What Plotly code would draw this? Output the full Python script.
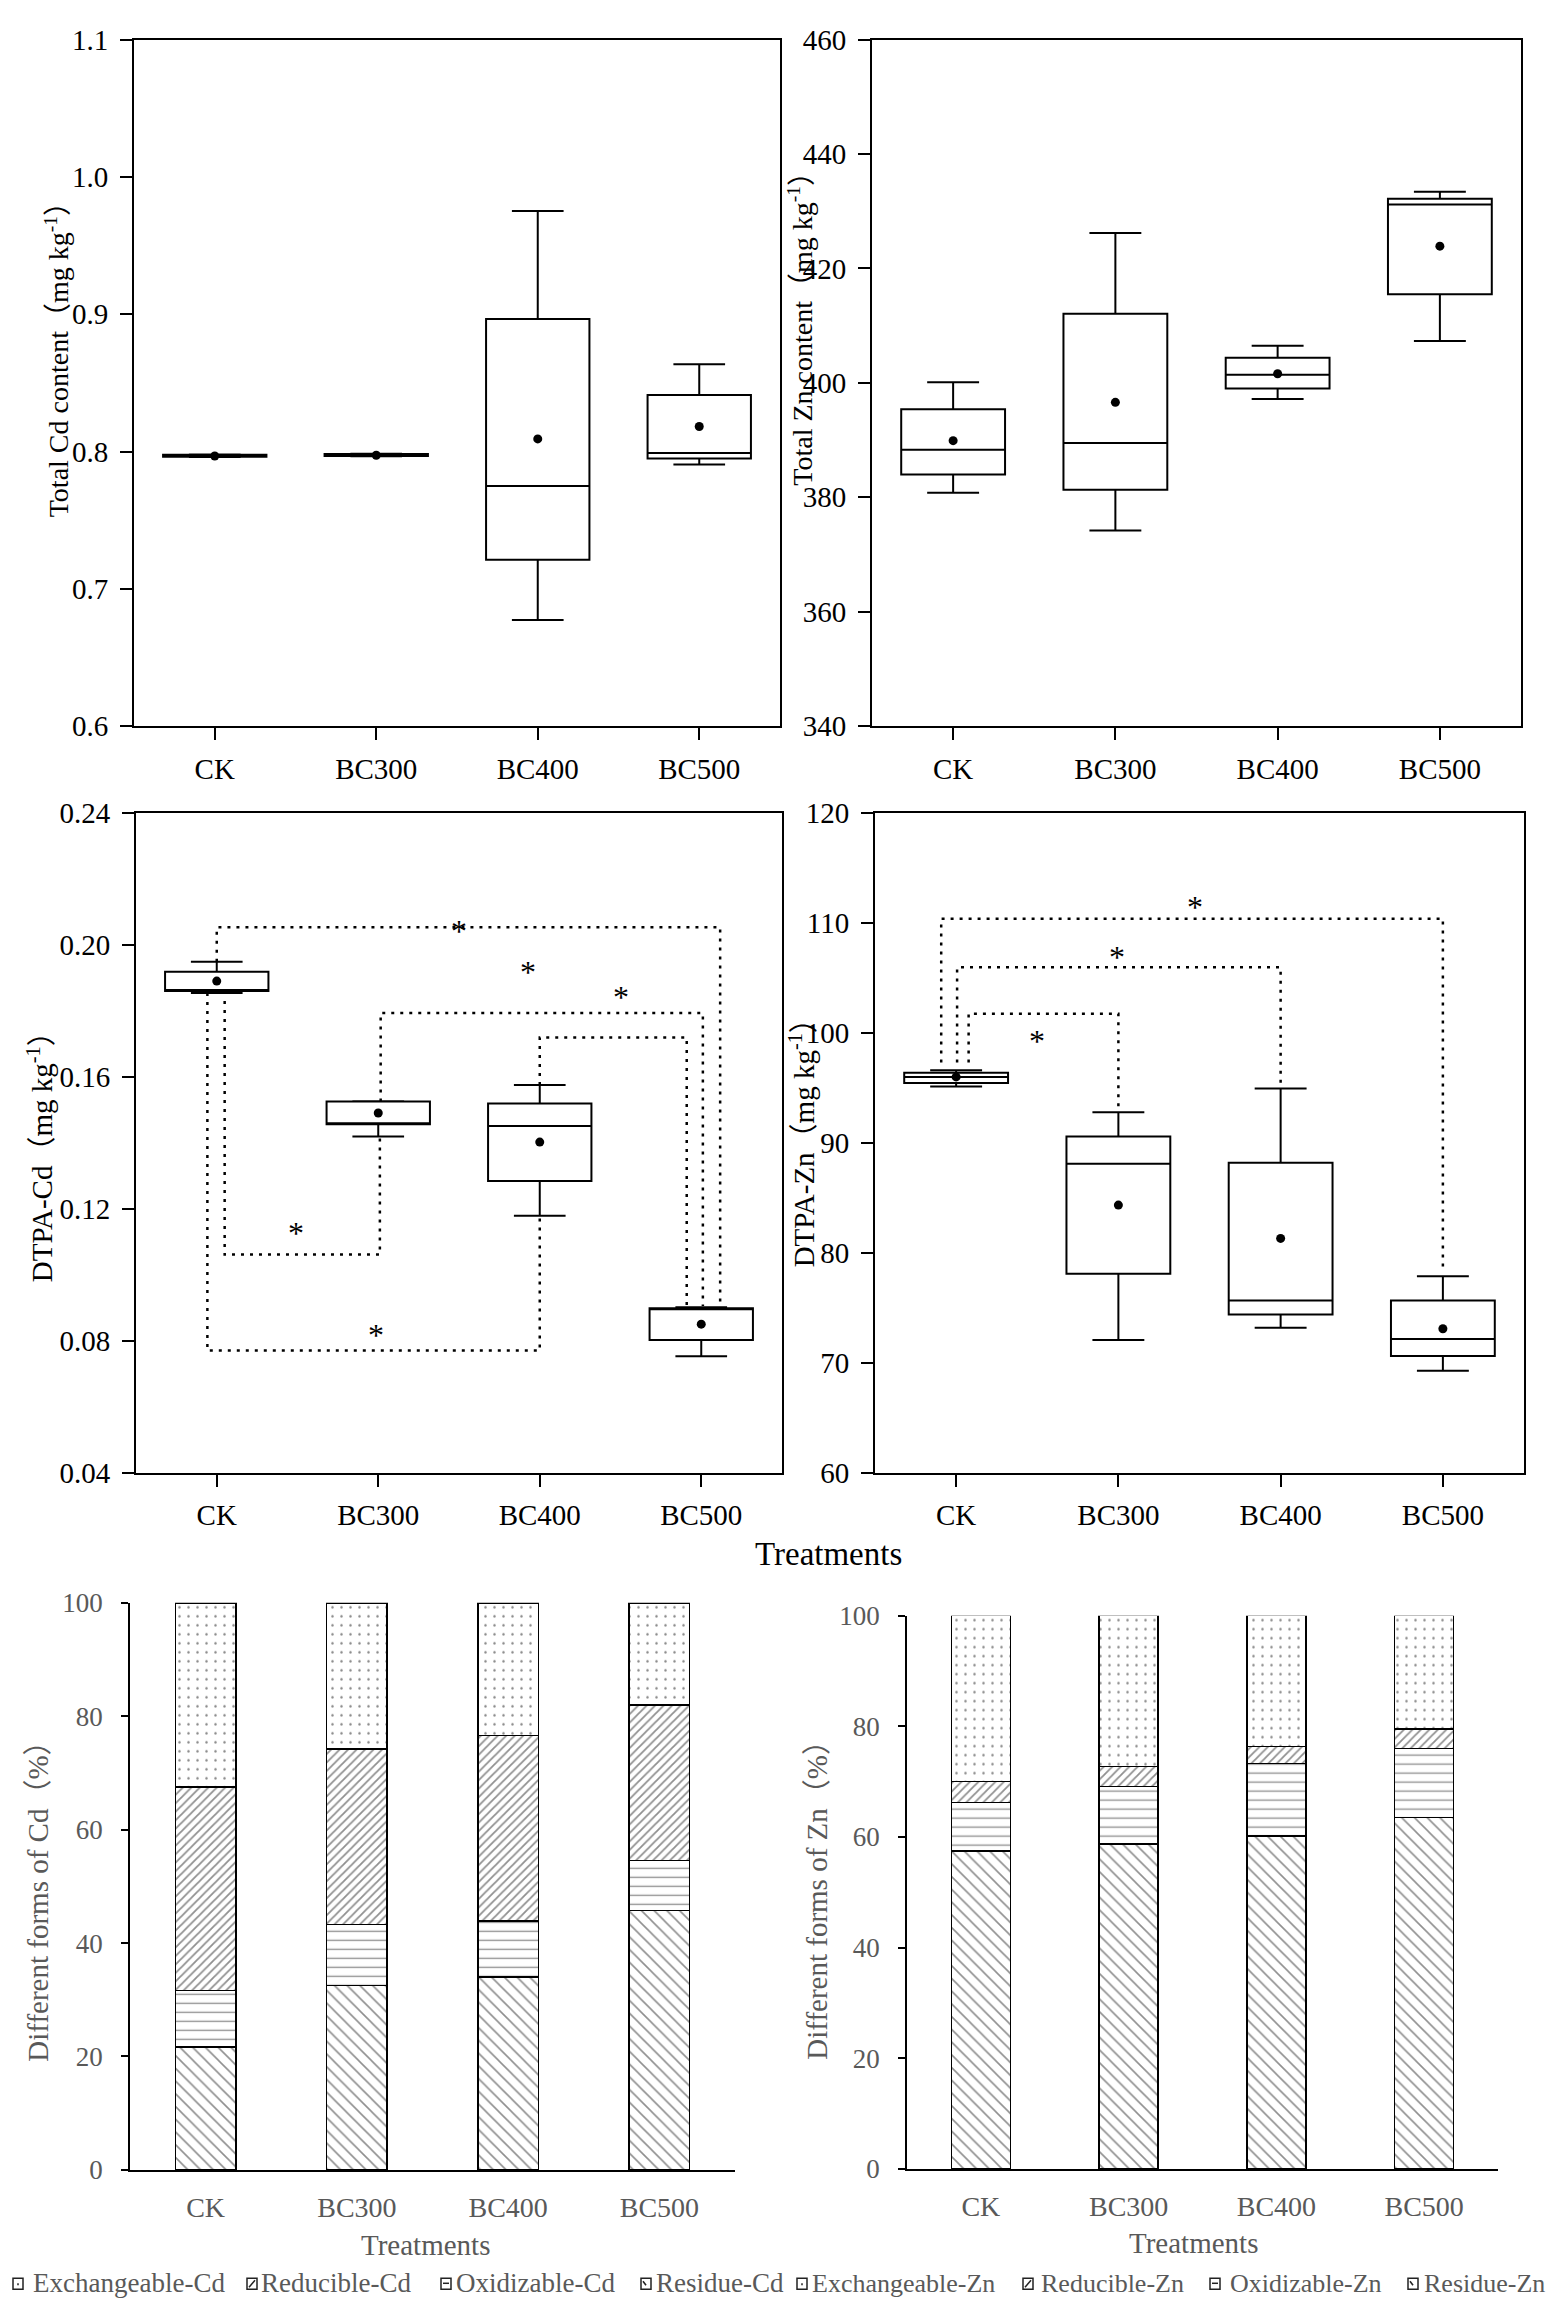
import plotly.graph_objects as go

W, H = 1559, 2320
SERIF = "Liberation Serif, Noto Sans CJK SC"
GRAY = "#595959"

categories = ["CK", "BC300", "BC400", "BC500"]
xpos = [0, 1, 2, 3]

# ---- Total Cd (box stats) ----
tcd_low = [0.7960, 0.7965, 0.6773, 0.7906]
tcd_q1 = [0.7962, 0.7967, 0.7212, 0.7949]
tcd_median = [0.7968, 0.7973, 0.7749, 0.7989]
tcd_q3 = [0.7976, 0.7981, 0.8965, 0.8411]
tcd_high = [0.7979, 0.7984, 0.9752, 0.8636]
tcd_mean = [0.7967, 0.7973, 0.8092, 0.8182]

# ---- Total Zn ----
tzn_low = [380.8, 374.2, 397.2, 407.3]
tzn_q1 = [384.0, 381.3, 399.0, 415.5]
tzn_median = [388.3, 389.5, 401.4, 431.2]
tzn_q3 = [395.4, 412.1, 404.4, 432.2]
tzn_high = [400.1, 426.2, 406.5, 433.4]
tzn_mean = [389.9, 396.6, 401.6, 423.9]

# ---- DTPA-Cd ----
dcd_low = [0.1854, 0.1419, 0.1179, 0.0753]
dcd_q1 = [0.1860, 0.1456, 0.1284, 0.0802]
dcd_median = [0.1863, 0.1457, 0.1451, 0.0895]
dcd_q3 = [0.1918, 0.1525, 0.1519, 0.0898]
dcd_high = [0.1949, 0.1526, 0.1575, 0.0901]
dcd_mean = [0.1890, 0.1490, 0.1402, 0.0850]

# ---- DTPA-Zn ----
dzn_low = [95.12, 72.07, 73.17, 69.27]
dzn_q1 = [95.44, 78.09, 74.37, 70.60]
dzn_median = [95.99, 88.09, 75.65, 72.16]
dzn_q3 = [96.36, 90.57, 88.19, 75.65]
dzn_high = [96.59, 92.78, 94.93, 77.86]
dzn_mean = [95.99, 84.33, 81.30, 73.08]

# significance brackets DTPA-Cd
cd_brk_xl = [0.0, -0.058, 0.049, 1.015, 2.0]
cd_brk_xr = [3.117, 2.0, 1.01, 3.01, 2.91]
cd_brk_y = [0.2053, 0.0770, 0.1061, 0.1793, 0.1719]
cd_brk_yl = [0.1949, 0.1854, 0.1830, 0.1525, 0.1575]
cd_brk_yr = [0.0905, 0.1179, 0.1419, 0.0905, 0.0905]
cd_star_x = [1.5, 1.93, 2.5, 0.49, 0.985]
cd_star_y = [0.2063, 0.1938, 0.1864, 0.1148, 0.0839]

# significance brackets DTPA-Zn
zn_brk_xl = [-0.092, 0.006, 0.077]
zn_brk_xr = [3.0, 2.0, 1.0]
zn_brk_y = [110.36, 105.95, 101.73]
zn_brk_yl = [97.3, 97.3, 97.3]
zn_brk_yr = [78.4, 94.93, 93.1]
zn_star_x = [1.47, 0.99, 0.50]
zn_star_y = [112.06, 107.56, 99.9]

# ---- fractions (%) ----
cd_residue = [21.7, 32.5, 34.0, 45.7]
cd_oxidizable = [9.9, 10.8, 9.9, 8.9]
cd_reducible = [35.9, 30.9, 32.7, 27.4]
cd_exchangeable = [32.5, 25.8, 23.4, 18.0]

zn_residue = [57.5, 58.7, 60.2, 63.5]
zn_oxidizable = [8.7, 10.4, 13.1, 12.5]
zn_reducible = [3.8, 3.6, 3.0, 3.5]
zn_exchangeable = [30.0, 27.3, 23.7, 20.5]

cd_legend = ["Exchangeable-Cd", "Reducible-Cd", "Oxidizable-Cd", "Residue-Cd"]
zn_legend = ["Exchangeable-Zn", "Reducible-Zn", "Oxidizable-Zn", "Residue-Zn"]


def dx(a, b):
    return [a / W, b / W]


def dy(top, bottom):
    return [1 - bottom / H, 1 - top / H]


def px(x):
    return x / W


def py(y):
    return 1 - y / H


fig = go.Figure()

box_sets = [
    (tcd_low, tcd_q1, tcd_median, tcd_q3, tcd_high, tcd_mean, "x", "y"),
    (tzn_low, tzn_q1, tzn_median, tzn_q3, tzn_high, tzn_mean, "x2", "y2"),
    (dcd_low, dcd_q1, dcd_median, dcd_q3, dcd_high, dcd_mean, "x3", "y3"),
    (dzn_low, dzn_q1, dzn_median, dzn_q3, dzn_high, dzn_mean, "x4", "y4"),
]
for lo, q1, md, q3, hi, mn, xa, ya in box_sets:
    fig.add_trace(go.Box(
        x=xpos, lowerfence=lo, q1=q1, median=md, q3=q3, upperfence=hi,
        width=0.64, whiskerwidth=0.5, fillcolor="white",
        line=dict(color="black", width=2), boxpoints=False,
        xaxis=xa, yaxis=ya, showlegend=False, hoverinfo="skip"))

DOT = dict(color="black", width=2.5, dash="3px,6px")
for xl, xr, yv, yl, yr in zip(cd_brk_xl, cd_brk_xr, cd_brk_y, cd_brk_yl, cd_brk_yr):
    fig.add_trace(go.Scatter(x=[xl, xl, xr, xr], y=[yl, yv, yv, yr], mode="lines",
                             line=DOT, xaxis="x3", yaxis="y3", showlegend=False, hoverinfo="skip"))
for xl, xr, yv, yl, yr in zip(zn_brk_xl, zn_brk_xr, zn_brk_y, zn_brk_yl, zn_brk_yr):
    fig.add_trace(go.Scatter(x=[xl, xl, xr, xr], y=[yl, yv, yv, yr], mode="lines",
                             line=DOT, xaxis="x4", yaxis="y4", showlegend=False, hoverinfo="skip"))

for lo, q1, md, q3, hi, mn, xa, ya in box_sets:
    fig.add_trace(go.Scatter(x=xpos, y=mn, mode="markers",
                             marker=dict(color="black", size=9),
                             xaxis=xa, yaxis=ya, showlegend=False, hoverinfo="skip"))

patterns = [
    dict(shape="\\", size=9, solidity=0.18, fgcolor="#222", bgcolor="white"),
    dict(shape="-", size=9, solidity=0.15, fgcolor="#222", bgcolor="white"),
    dict(shape="/", size=6, solidity=0.3, fgcolor="#222", bgcolor="white"),
    dict(shape=".", size=9, solidity=0.06, fgcolor="#111", bgcolor="white"),
]
cd_stack = [cd_residue, cd_oxidizable, cd_reducible, cd_exchangeable]
zn_stack = [zn_residue, zn_oxidizable, zn_reducible, zn_exchangeable]
cd_names = [cd_legend[3], cd_legend[2], cd_legend[1], cd_legend[0]]
zn_names = [zn_legend[3], zn_legend[2], zn_legend[1], zn_legend[0]]
for vals, pat, nm in zip(cd_stack, patterns, cd_names):
    fig.add_trace(go.Bar(x=xpos, y=vals, width=0.4, name=nm, xaxis="x5", yaxis="y5",
                         marker=dict(color="white", pattern=pat, line=dict(color="black", width=1.5)),
                         showlegend=False))
for vals, pat, nm in zip(zn_stack, patterns, zn_names):
    fig.add_trace(go.Bar(x=xpos, y=vals, width=0.4, name=nm, xaxis="x6", yaxis="y6",
                         marker=dict(color="white", pattern=pat, line=dict(color="black", width=1.5)),
                         showlegend=False))


def box_x(domain, anchor):
    return dict(domain=domain, anchor=anchor, range=[-0.5, 3.5], tickvals=xpos, ticktext=categories,
                ticks="outside", ticklen=12, tickwidth=2, tickcolor="black",
                showline=True, linewidth=2, linecolor="black", mirror=True,
                showgrid=False, zeroline=False, ticklabelstandoff=4,
                tickfont=dict(family=SERIF, size=29, color="black"))


def box_y(domain, anchor, rng, dtick, fmt):
    return dict(domain=domain, anchor=anchor, range=rng, dtick=dtick, tick0=rng[0], tickformat=fmt,
                ticks="outside", ticklen=12, tickwidth=2, tickcolor="black",
                showline=True, linewidth=2, linecolor="black", mirror=True,
                showgrid=False, zeroline=False, ticklabelstandoff=6,
                tickfont=dict(family=SERIF, size=29, color="black"))


def bar_x(domain, anchor):
    return dict(domain=domain, anchor=anchor, range=[-0.5, 3.5], tickvals=xpos, ticktext=categories,
                ticks="", showline=True, linewidth=1.5, linecolor="black",
                showgrid=False, zeroline=False, ticklabelstandoff=12,
                tickfont=dict(family=SERIF, size=28, color=GRAY))


def bar_y(domain, anchor):
    return dict(domain=domain, anchor=anchor, range=[0, 100], dtick=20,
                ticks="outside", ticklen=7, tickwidth=1.5, tickcolor="black",
                showline=True, linewidth=1.5, linecolor="black",
                showgrid=False, zeroline=False, ticklabelstandoff=13,
                tickfont=dict(family=SERIF, size=27, color=GRAY))


TOP = (24, 720)
MID = (808, 1477)
fig.update_layout(
    width=W, height=H, margin=dict(l=0, r=0, t=0, b=0),
    paper_bgcolor="white", plot_bgcolor="white", barmode="stack", showlegend=False,
    xaxis=box_x(dx(134, 780), "y"),
    yaxis=box_y(dy(*TOP), "x", [0.6, 1.1], 0.1, ".1f"),
    xaxis2=box_x(dx(872, 1521), "y2"),
    yaxis2=box_y(dy(*TOP), "x2", [340, 460], 20, "d"),
    xaxis3=box_x(dx(136, 782), "y3"),
    yaxis3=box_y(dy(*MID), "x3", [0.04, 0.24], 0.04, ".2f"),
    xaxis4=box_x(dx(875, 1524), "y4"),
    yaxis4=box_y(dy(*MID), "x4", [60, 120], 10, "d"),
    xaxis5=bar_x(dx(130, 735), "y5"),
    yaxis5=bar_y(dy(1609, 2184), "x5"),
    xaxis6=bar_x(dx(907, 1498), "y6"),
    yaxis6=bar_y(dy(1622, 2183), "x6"),
)

ann = []
# axis titles
titles = [
    ("Total Cd content（mg kg<sup>-1</sup>）", 57, 342, 28, "black"),
    ("Total Zn content（mg kg<sup>-1</sup>）", 801, 310, 28, "black"),
    ("DTPA-Cd（mg kg<sup>-1</sup>）", 40, 1150, 29, "black"),
    ("DTPA-Zn（mg kg<sup>-1</sup>）", 802, 1135, 29, "black"),
    ("Different forms of Cd（%）", 38, 1905, 29, GRAY),
    ("Different forms of Zn（%）", 817, 1903, 29, GRAY),
]
for t, x, y, s, c in titles:
    ann.append(dict(text=t, x=px(x), y=py(y), xref="paper", yref="paper", textangle=-90,
                    showarrow=False, xanchor="center", yanchor="middle",
                    font=dict(family=SERIF, size=s, color=c)))
for x, y, s, c in [(828, 1560, 33, "black"), (425, 2260, 29, GRAY), (1193, 2258, 29, GRAY)]:
    ann.append(dict(text="Treatments", x=px(x), y=py(y), xref="paper", yref="paper",
                    showarrow=False, xanchor="center", yanchor="middle",
                    font=dict(family=SERIF, size=s, color=c)))
for sx, sy in zip(cd_star_x, cd_star_y):
    ann.append(dict(text="*", x=sx, y=sy, xref="x3", yref="y3", showarrow=False, yshift=-7,
                    xanchor="center", yanchor="middle",
                    font=dict(family=SERIF, size=32, color="black")))
for sx, sy in zip(zn_star_x, zn_star_y):
    ann.append(dict(text="*", x=sx, y=sy, xref="x4", yref="y4", showarrow=False, yshift=-7,
                    xanchor="center", yanchor="middle",
                    font=dict(family=SERIF, size=32, color="black")))

# legends (text + small icons)
LEG_Y = 2299
cd_icon_x = [13, 247, 441, 641]
cd_text_x = [31, 259, 454, 654]
zn_icon_x = [797, 1023, 1210, 1408]
zn_text_x = [810, 1039, 1228, 1422]
for t, x in zip(cd_legend, cd_text_x):
    ann.append(dict(text=t, x=px(x), y=py(LEG_Y), xref="paper", yref="paper", showarrow=False,
                    xanchor="left", yanchor="middle", font=dict(family=SERIF, size=27, color=GRAY)))
for t, x in zip(zn_legend, zn_text_x):
    ann.append(dict(text=t, x=px(x), y=py(LEG_Y), xref="paper", yref="paper", showarrow=False,
                    xanchor="left", yanchor="middle", font=dict(family=SERIF, size=26, color=GRAY)))

shapes = []
for icons in (cd_icon_x, zn_icon_x):
    for i, x in enumerate(icons):
        x0, x1 = px(x), px(x + 10)
        y0, y1 = py(LEG_Y + 6), py(LEG_Y - 5)
        shapes.append(dict(type="rect", xref="paper", yref="paper", x0=x0, x1=x1, y0=y0, y1=y1,
                           line=dict(color="#222", width=1.5), fillcolor="white"))
        if i == 0:
            shapes.append(dict(type="line", xref="paper", yref="paper", x0=px(x + 5), x1=px(x + 5),
                               y0=py(LEG_Y + 2), y1=py(LEG_Y), line=dict(color="#222", width=1.5)))
        elif i == 1:
            shapes.append(dict(type="line", xref="paper", yref="paper", x0=px(x + 2), x1=px(x + 8),
                               y0=py(LEG_Y + 4), y1=py(LEG_Y - 3), line=dict(color="#222", width=1.5)))
        elif i == 2:
            shapes.append(dict(type="line", xref="paper", yref="paper", x0=px(x + 2), x1=px(x + 8),
                               y0=py(LEG_Y), y1=py(LEG_Y), line=dict(color="#222", width=1.5)))
        else:
            shapes.append(dict(type="line", xref="paper", yref="paper", x0=px(x + 2), x1=px(x + 5),
                               y0=py(LEG_Y - 2), y1=py(LEG_Y + 2), line=dict(color="#222", width=1.5)))

fig.update_layout(annotations=ann, shapes=shapes)
fig.write_html("out.html", config={"displayModeBar": False},
               post_script="document.body.style.margin='0';document.body.style.overflow='hidden';")
